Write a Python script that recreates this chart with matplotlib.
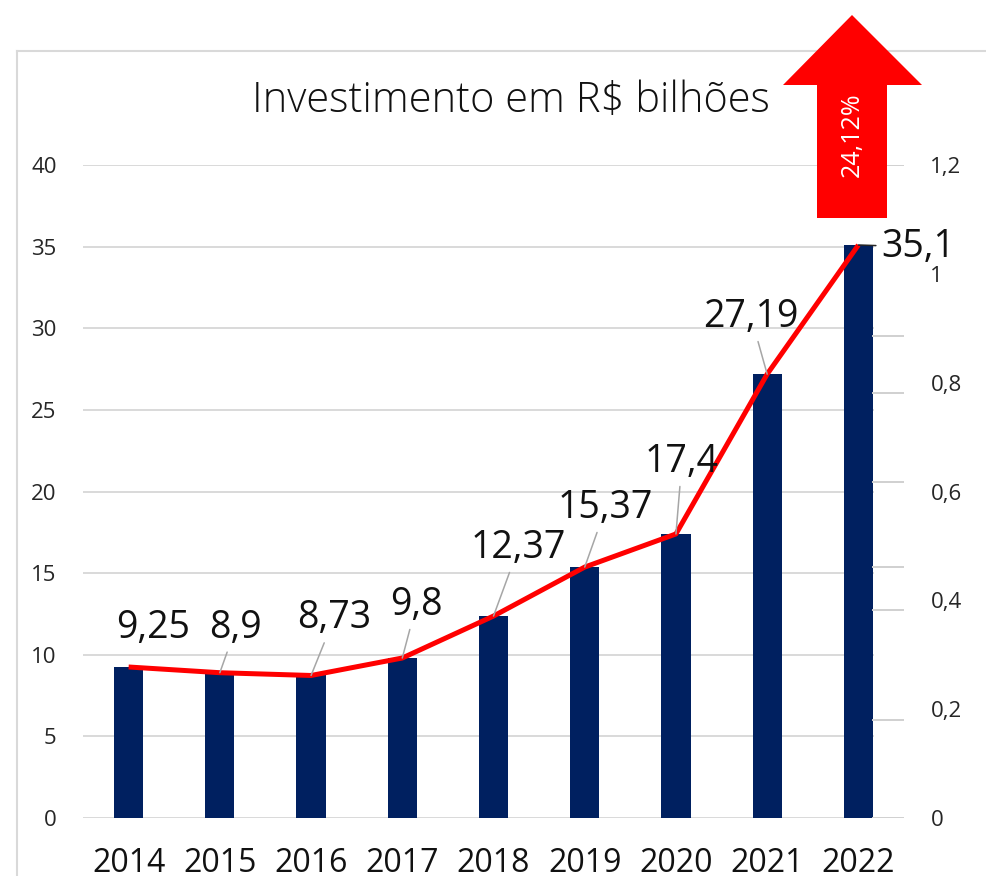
import matplotlib
matplotlib.use("Agg")
import matplotlib.pyplot as plt
from matplotlib.patches import Polygon
from matplotlib.lines import Line2D

# Data
years = ["2014", "2015", "2016", "2017", "2018", "2019", "2020", "2021", "2022"]
investment = [9.25, 8.9, 8.73, 9.8, 12.37, 15.37, 17.4, 27.19, 35.1]
value_labels = ["9,25", "8,9", "8,73", "9,8", "12,37", "15,37", "17,4", "27,19", "35,1"]
left_ticks = [0, 5, 10, 15, 20, 25, 30, 35, 40]
right_ticks = [0, 0.2, 0.4, 0.6, 0.8, 1.0, 1.2]
right_tick_labels = ["0", "0,2", "0,4", "0,6", "0,8", "1", "1,2"]
right_stub_levels = [0.0, 0.180, 0.382, 0.461, 0.617, 0.781, 0.886, 1.2]
growth_text = "24,12%"
title_text = "Investimento em R$ bilhões"

# Label offsets (pixels) from each data point, and leader line colour (None = no leader)
label_offsets = [(24, 39), (16, 45), (23, 57), (14, 53), (25, 68),
                 (21, 59), (6, 72), (-16, 57), (60, -2)]
leader_colors = [None, "#a6a6a6", "#a6a6a6", "#a6a6a6", "#a6a6a6",
                 "#a6a6a6", "#a6a6a6", "#a6a6a6", "#262626"]

W, H = 987, 876
plt.rcParams["font.family"] = ["Open Sans", "DejaVu Sans"]
fig = plt.figure(figsize=(W / 100, H / 100), dpi=100)
fig.patch.set_facecolor("white")

def fx(px):
    return px / W

def fy(py):
    return 1 - py / H

ax = fig.add_axes([fx(83), fy(818), fx(904) - fx(83), fy(165) - fy(818)])
x = list(range(len(years)))

ax.set_xlim(-0.5, len(years) - 0.5)
ax.set_ylim(0, 40)
grid_end = (873 - 83) / (904 - 83)
for t in left_ticks:
    ax.axhline(t, xmin=0, xmax=grid_end, color="#d9d9d9", lw=1.4, zorder=0)

ax.bar(x, investment, width=0.32, color="#002060", zorder=2)
ax.plot(x, investment, color="#ff0000", lw=3.6, zorder=3, solid_capstyle="butt")

for i, (v, lab) in enumerate(zip(investment, value_labels)):
    dx, dy = label_offsets[i]
    props = None
    if leader_colors[i] is not None:
        props = dict(arrowstyle="-", color=leader_colors[i], lw=1.1,
                     shrinkA=2, shrinkB=0)
    ax.annotate(lab, xy=(i, v), xytext=(dx, dy), textcoords="offset pixels",
                ha="center", va="center", fontsize=27, color="#111111",
                arrowprops=props, zorder=6, annotation_clip=False)

ax.set_xticks(x)
ax.set_xticklabels(years, fontsize=23, color="#111111")
ax.set_yticks(left_ticks)
ax.set_yticklabels([str(t) for t in left_ticks], fontsize=16, color="#262626")
ax.tick_params(axis="x", length=0, pad=21)
ax.tick_params(axis="y", length=0, pad=19)
for s in ax.spines.values():
    s.set_visible(False)

ax2 = ax.twinx()
ax2.set_ylim(0, 1.2)
ax2.set_yticks(right_ticks)
ax2.set_yticklabels(right_tick_labels, fontsize=16, color="#262626")
ax2.tick_params(axis="y", length=0, pad=19)
for s in ax2.spines.values():
    s.set_visible(False)
for lvl in right_stub_levels:
    ax2.axhline(lvl, xmin=grid_end, xmax=1.0, color="#d0d0d0", lw=1.4, zorder=0)

# Chart frame
fig.add_artist(Line2D([fx(17), fx(17)], [fy(51), 0], color="#d9d9d9", lw=1.5))
fig.add_artist(Line2D([fx(17), fx(986)], [fy(51), fy(51)], color="#d9d9d9", lw=1.5))

fig.text(fx(511), fy(101), title_text, ha="center", va="center",
         fontsize=30, fontweight="light", color="#111111")

# Growth arrow
arrow_px = [(852, 15), (922, 85), (887, 85), (887, 218), (817, 218), (817, 85), (783, 85)]
arrow = Polygon([(fx(a), fy(b)) for a, b in arrow_px], closed=True,
                transform=fig.transFigure, facecolor="#ff0000", edgecolor="none",
                zorder=10)
fig.add_artist(arrow)
fig.text(fx(852), fy(135), growth_text, rotation=90, ha="center", va="center",
         fontsize=18, color="white", zorder=11)

fig.savefig("out.png", dpi=100)
